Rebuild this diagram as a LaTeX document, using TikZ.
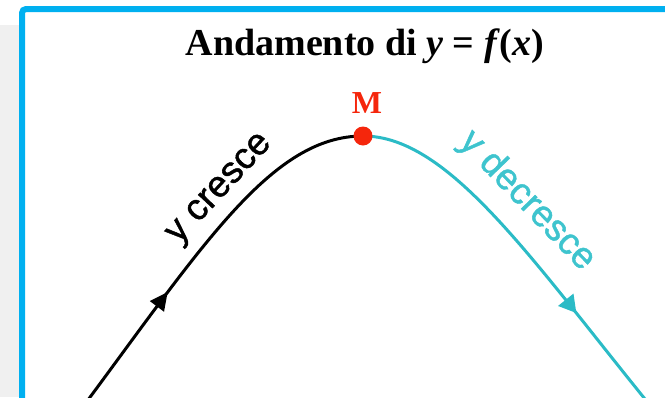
\documentclass[tikz,border=0pt]{standalone}
\usepackage{fontspec}
\setmainfont{Liberation Serif}
\newfontfamily\labfont[FakeBold=1.2]{Liberation Sans}
\usetikzlibrary{arrows.meta,decorations.markings}
\definecolor{boxblue}{HTML}{00B0F0}
\definecolor{curvecyan}{HTML}{2BBBC6}
\definecolor{labcyan}{HTML}{3EC4CE}
\definecolor{dotred}{HTML}{F5260C}
\definecolor{bggray}{HTML}{F0F0F0}
\begin{document}
\begin{tikzpicture}[x=1pt,y=-1pt,
  titlestyle/.style={font=\fontsize{38}{40}\selectfont\bfseries, anchor=base, inner sep=0pt},
  mstyle/.style={font=\fontsize{32}{34}\selectfont\bfseries, text=dotred, anchor=base, inner sep=0pt},
  labstyle/.style={font=\labfont\fontsize{37}{39}\selectfont, inner sep=0pt},
  curvestyle/.style={line width=3pt, line cap=round}
]
\useasboundingbox (0,0) rectangle (665,397);
\clip (0,0) rectangle (665,397);
\fill[bggray] (0,25) rectangle (20,397);
\draw[boxblue, line width=6pt, rounded corners=4pt, fill=white] (22,9) rectangle (720,450);

\node[titlestyle] (title) at (365,55) {Andamento di \textit{y} = \textit{f}(\textit{x})};

\coordinate (peak) at (363,136);
\coordinate (bstart) at (85,404);
\coordinate (cend) at (649,404);

\draw[curvestyle, black, postaction={decorate},
  decoration={markings, mark=at position 0.35 with {\arrow{Triangle[length=18pt,width=17pt]}}}]
  (bstart) .. controls (205,242) and (273,136) .. (peak);
\draw[curvestyle, curvecyan, postaction={decorate},
  decoration={markings, mark=at position 0.71 with {\arrow{Triangle[length=17pt,width=19pt]}}}]
  (peak) .. controls (448,136) and (529,256) .. (cend);

\node[labstyle, rotate=47] (up) at (221,190) {y cresce};
\node[labstyle, text=labcyan, rotate=-46] (down) at (527,201) {y decresce};

\node[circle, fill=dotred, minimum size=19pt, inner sep=0pt] (M) at (peak) {};
\node[mstyle] (Mlab) at (367,113) {M};
\end{tikzpicture}
\end{document}
